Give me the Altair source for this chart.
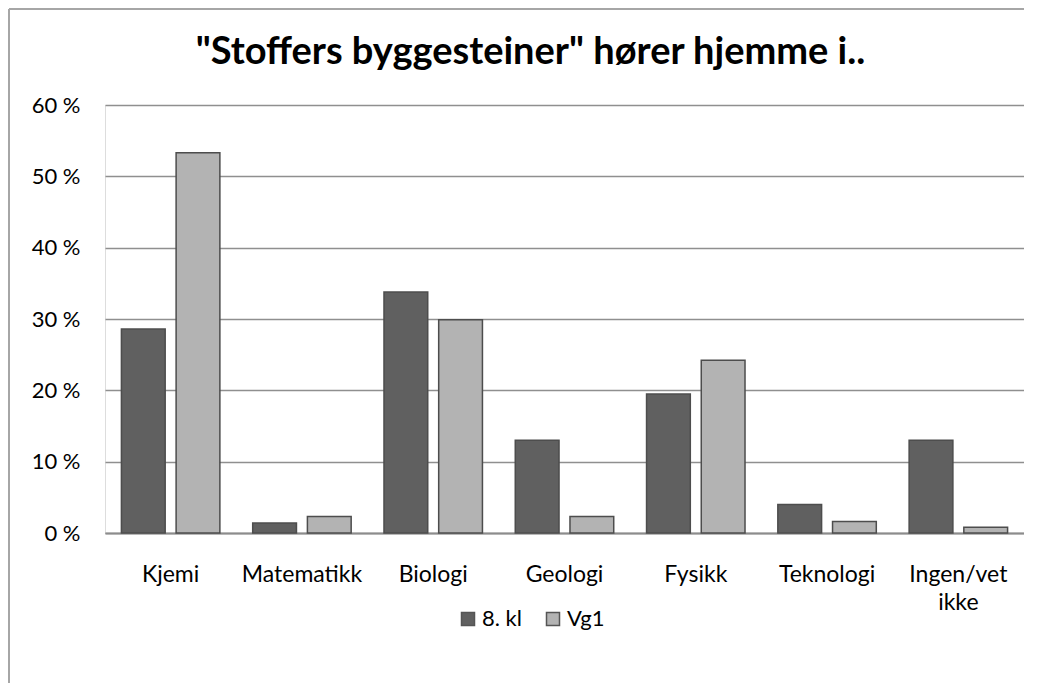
import altair as alt
import pandas as pd

categories = ["Kjemi", "Matematikk", "Biologi", "Geologi", "Fysikk", "Teknologi", "Ingen/vet ikke"]
series_names = ["8. kl", "Vg1"]
vals_8kl = [28.6, 1.4, 33.8, 13.0, 19.5, 4.0, 13.0]
vals_vg1 = [53.3, 2.3, 29.9, 2.3, 24.2, 1.6, 0.8]
y_ticks = [0, 10, 20, 30, 40, 50, 60]

rows = []
for c, a, b in zip(categories, vals_8kl, vals_vg1):
    rows.append({"kategori": c, "serie": series_names[0], "verdi": a})
    rows.append({"kategori": c, "serie": series_names[1], "verdi": b})
df = pd.DataFrame(rows)

FONT = "Lato"
FS = 22

bars = alt.Chart(df).mark_bar(stroke="#4d4d4d", strokeWidth=1.5).encode(
    x=alt.X("kategori:N", sort=categories, title=None,
            scale=alt.Scale(paddingInner=0.25, paddingOuter=0.125),
            axis=alt.Axis(labelAngle=0, domain=True, domainColor="#8c8c8c", domainWidth=2,
                          ticks=False, tickSize=0, labelPadding=30, labelFont=FONT,
                          labelFontSize=23, labelColor="#000000", labelLineHeight=28,
                          labelExpr="datum.label == 'Ingen/vet ikke' ? ['Ingen/vet', 'ikke'] : datum.label",
                          grid=False)),
    xOffset=alt.XOffset("serie:N", sort=series_names,
                        scale=alt.Scale(paddingInner=0.2, paddingOuter=0)),
    y=alt.Y("verdi:Q", title=None,
            scale=alt.Scale(domain=[0, 60]),
            axis=alt.Axis(values=y_ticks, domain=False, ticks=False, tickSize=0,
                          labelPadding=25, labelFont=FONT, labelFontSize=FS,
                          labelColor="#000000", labelExpr="datum.value + ' %'",
                          grid=True, gridColor="#8f8f8f", gridWidth=1.5)),
    color=alt.Color("serie:N", sort=series_names,
                    scale=alt.Scale(domain=series_names, range=["#606060", "#b3b3b3"]),
                    legend=alt.Legend(title=None, orient="none", direction="horizontal",
                                      legendX=352, legendY=503, symbolType="square",
                                      symbolSize=169, symbolStrokeColor="#555555",
                                      symbolStrokeWidth=1.5, labelFont=FONT,
                                      labelFontSize=FS, labelColor="#000000",
                                      labelOffset=3, columnPadding=20, padding=0)),
)

frame_left = alt.Chart(df).mark_rule(color="#a6a6a6", strokeWidth=2).encode(
    x=alt.value(-96), y=alt.value(-96), y2=alt.value(600))
frame_top = alt.Chart(df).mark_rule(color="#a6a6a6", strokeWidth=2).encode(
    x=alt.value(-96), x2=alt.value(940), y=alt.value(-96))

chart = alt.layer(bars, frame_left, frame_top).properties(
    width=919, height=428,
    title=alt.TitleParams('"Stoffers byggesteiner" hører hjemme i..', font=FONT,
                          fontSize=38, fontWeight="bold", color="#000000",
                          anchor="middle", frame="group", dx=-34, offset=-94,
                          baseline="alphabetic"),
    padding={"left": 97, "top": 97, "right": 0, "bottom": 150},
    autosize=alt.AutoSizeParams(type="none"),
).configure_view(fill="#e6e6e6", stroke=None).configure(background="#ffffff")

chart.save("out.html", embed_options={"renderer": "svg", "actions": False})
